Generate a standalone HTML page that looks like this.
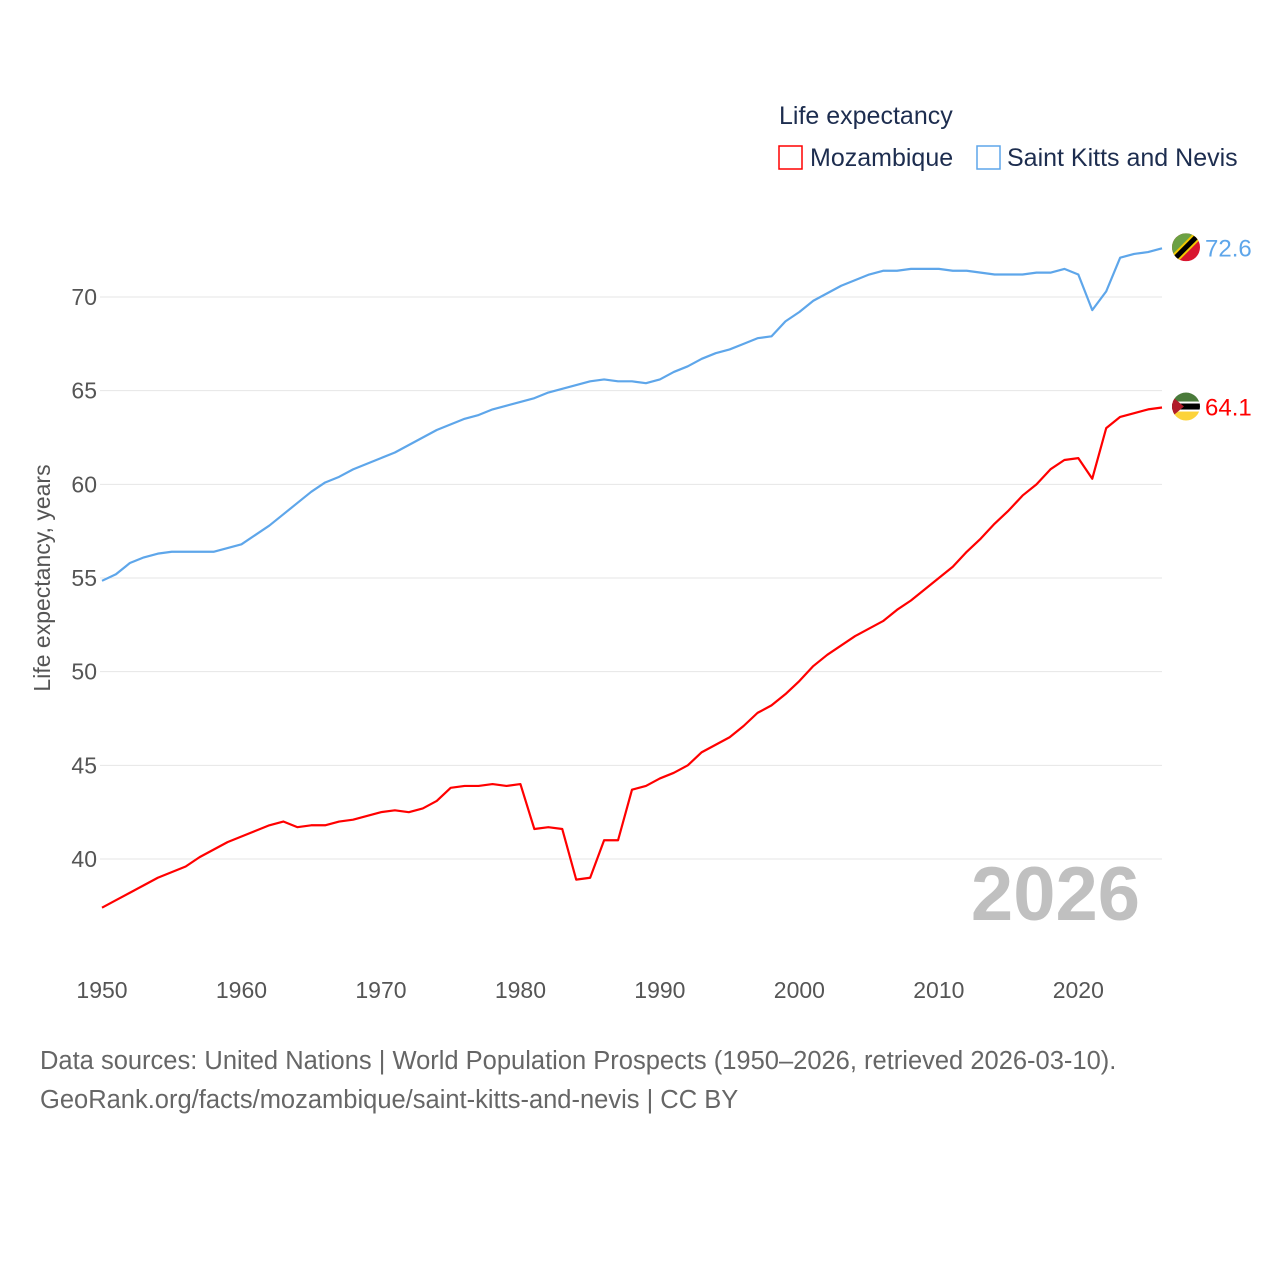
<!DOCTYPE html>
<html><head><meta charset="utf-8"><style>
body{margin:0;background:#fff;font-family:"Liberation Sans",sans-serif;}
svg text{font-family:"Liberation Sans",sans-serif;}
</style></head><body>
<svg id="chart" width="1280" height="1280" xmlns="http://www.w3.org/2000/svg">
<defs>
<clipPath id="ckn"><circle cx="1186" cy="0" r="14" id="ckn-c"/></clipPath>
<clipPath id="cmz"><circle cx="1186" cy="0" r="14" id="cmz-c"/></clipPath>
</defs>
<rect width="1280" height="1280" fill="#fff"/>
<g id="grid"></g>
<g id="xaxis"></g>
<text x="50" y="578" transform="rotate(-90 50 578)" text-anchor="middle" font-size="23" fill="#555">Life expectancy, years</text>
<g>
<text x="779" y="124" font-size="25" fill="#1d2d4f">Life expectancy</text>
<g><rect x="779" y="146" width="23" height="23" fill="#fff" stroke="#f00" stroke-width="1.5"/><text x="810" y="166" font-size="25" fill="#1d2d4f">Mozambique</text></g>
<g><rect x="977" y="146" width="23" height="23" fill="#fff" stroke="#5ea6ea" stroke-width="1.5"/><text x="1007" y="166" font-size="25" fill="#1d2d4f">Saint Kitts and Nevis</text></g>
</g>
<text x="1140" y="920" text-anchor="end" font-size="76" font-weight="bold" fill="#c0c0c0">2026</text>
<g id="series"></g>
<text x="40" y="1069" font-size="25.5" fill="#666">Data sources: United Nations | World Population Prospects (1950–2026, retrieved 2026-03-10).</text>
<text x="40" y="1108" font-size="25.5" fill="#666">GeoRank.org/facts/mozambique/saint-kitts-and-nevis | CC BY</text>
</svg>
<script>
const years=[];for(let y=1950;y<=2026;y++)years.push(y);
const yTicks=[40,45,50,55,60,65,70];
const xTicks=[1950,1960,1970,1980,1990,2000,2010,2020];
const kitts=[54.85,55.2,55.8,56.1,56.3,56.4,56.4,56.4,56.4,56.6,56.8,57.3,57.8,58.4,59.0,59.6,60.1,60.4,60.8,61.1,61.4,61.7,62.1,62.5,62.9,63.2,63.5,63.7,64.0,64.2,64.4,64.6,64.9,65.1,65.3,65.5,65.6,65.5,65.5,65.4,65.6,66.0,66.3,66.7,67.0,67.2,67.5,67.8,67.9,68.7,69.2,69.8,70.2,70.6,70.9,71.2,71.4,71.4,71.5,71.5,71.5,71.4,71.4,71.3,71.2,71.2,71.2,71.3,71.3,71.5,71.2,69.3,70.3,72.1,72.3,72.4,72.6];
const mozambique=[37.4,37.8,38.2,38.6,39.0,39.3,39.6,40.1,40.5,40.9,41.2,41.5,41.8,42.0,41.7,41.8,41.8,42.0,42.1,42.3,42.5,42.6,42.5,42.7,43.1,43.8,43.9,43.9,44.0,43.9,44.0,41.6,41.7,41.6,38.9,39.0,41.0,41.0,43.7,43.9,44.3,44.6,45.0,45.7,46.1,46.5,47.1,47.8,48.2,48.8,49.5,50.3,50.9,51.4,51.9,52.3,52.7,53.3,53.8,54.4,55.0,55.6,56.4,57.1,57.9,58.6,59.4,60.0,60.8,61.3,61.4,60.3,63.0,63.6,63.8,64.0,64.1];
const NS="http://www.w3.org/2000/svg";
const X=y=>102+(y-1950)*(1162-102)/76;
const Y=v=>859-(v-40)*(562/30);
function el(t,a,p){const e=document.createElementNS(NS,t);for(const k in a)e.setAttribute(k,a[k]);p.appendChild(e);return e;}
const grid=document.getElementById('grid');
yTicks.forEach(v=>{
 const l=el('line',{x1:100,x2:1162,y1:Y(v),y2:Y(v),stroke:'#e6e6e6','stroke-width':1},grid);
 
 
 const t=el('text',{x:97,y:Y(v)+8,'text-anchor':'end','font-size':23,fill:'#555'},grid);t.textContent=v;
 
 
});
const xa=document.getElementById('xaxis');
xTicks.forEach(v=>{
 const t=el('text',{x:X(v),y:998,'text-anchor':'middle','font-size':23,fill:'#555'},xa);t.textContent=v;
 
 
});
const s=document.getElementById('series');
function line(vals,color,name){
 const p=el('polyline',{points:vals.map((v,i)=>X(years[i])+','+Y(v)).join(' '),fill:'none',stroke:color,'stroke-width':2.2,'stroke-linejoin':'round'},s);
 
 
}
line(kitts,'#5ea6ea','line-saint-kitts-and-nevis');
line(mozambique,'#f00','line-mozambique');
function endLabel(vals,color,name,flag){
 const v=vals[vals.length-1],cx=1186,cy=Y(v)-1;
 const g=el('g',{},s);
 
 
 const fg=el('g',{'clip-path':flag==='kn'?'url(#ckn)':'url(#cmz)'},g);
 document.getElementById(flag==='kn'?'ckn-c':'cmz-c').setAttribute('cy',cy);
 if(flag==='kn'){
  el('rect',{x:cx-14,y:cy-14,width:28,height:28,fill:'#d9162f'},fg);
  el('path',{d:`M${cx-14} ${cy+14} L${cx-14} ${cy-14} L${cx+14} ${cy-14} Z`,fill:'#6ba043'},fg);
  el('line',{x1:cx-16,y1:cy+16,x2:cx+16,y2:cy-16,stroke:'#f2c900','stroke-width':9},fg);
  el('line',{x1:cx-16,y1:cy+16,x2:cx+16,y2:cy-16,stroke:'#000','stroke-width':5},fg);
 }else{
  el('rect',{x:cx-14,y:cy-14,width:28,height:28,fill:'#fff'},fg);
  el('rect',{x:cx-14,y:cy-14,width:28,height:9,fill:'#4a7a3a'},fg);
  el('rect',{x:cx-14,y:cy-3,width:28,height:6,fill:'#000'},fg);
  el('rect',{x:cx-14,y:cy+5,width:28,height:9,fill:'#fcd33a'},fg);
  el('path',{d:`M${cx-14} ${cy-10} L${cx-2} ${cy} L${cx-14} ${cy+10} Z`,fill:'#b01c2a'},fg);
 }
 const t=el('text',{x:1205,y:Y(v)+8,'font-size':24,fill:color},g);t.textContent=v.toFixed(1);
}
endLabel(kitts,'#5ea6ea','end-label-saint-kitts','kn');
endLabel(mozambique,'#f00','end-label-mozambique','mz');
</script>
</body></html>
